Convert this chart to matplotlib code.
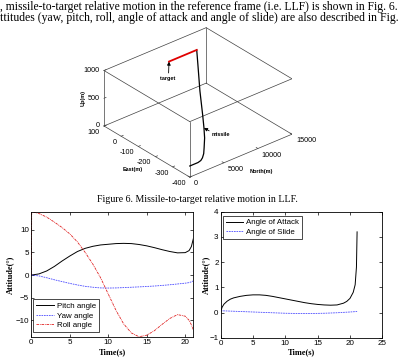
import matplotlib
matplotlib.use('Agg')
import matplotlib.pyplot as plt
import numpy as np
from mpl_toolkits.mplot3d import proj3d

W, H = 404, 361

# ---- Fig. 6 data: missile-to-target relative motion in LLF (m) ----
missile_north = [0, 600, 1215, 1700, 2115, 2600, 3165, 4095, 4905, 5940, 7710, 9825, 10965]
missile_east = [-400, -400, -400, -397, -390, -378, -358, -324, -288, -239, -153, -57, -5]
missile_up = [200, 200, 200, 206, 220, 248, 286, 355, 428, 527, 700, 897, 1000]
target_north = [6900, 10965]
target_east = [-5, -5]
target_up = [1000, 1000]

north_ticks = [0, 5000, 10000, 15000]
east_ticks = [100, 0, -100, -200, -300, -400]
up_ticks = [0, 500, 1000]

# ---- attitude (deg) ----
t_att = [0, 0.05, 1, 2, 3, 4, 5, 6, 7, 8, 9, 10, 11, 12, 13, 14, 15, 16, 17, 18, 19, 20, 20.5, 20.8, 21.05]
pitch = [0, 0, 0.25, 0.9, 1.9, 3.1, 4.2, 5.2, 5.9, 6.35, 6.65, 6.8, 6.95, 7.0, 6.95, 6.75, 6.45, 6.05,
         5.6, 5.2, 4.9, 4.95, 5.4, 6.3, 8.0]
yaw = [0, 0, -0.2, -0.6, -1.05, -1.45, -1.85, -2.2, -2.5, -2.7, -2.85, -2.88, -2.85, -2.78, -2.7, -2.62,
       -2.53, -2.43, -2.3, -2.15, -1.98, -1.8, -1.68, -1.5, -1.3]
roll = [0, 14.0, 13.6, 12.8, 11.7, 10.5, 9.1, 7.3, 5.0, 2.4, -0.6, -4.2, -7.8, -10.8, -12.8, -13.65,
        -13.3, -12.3, -10.9, -9.6, -8.75, -9.1, -10.0, -11.0, -12.1]

t_aoa = [0, 0.2, 0.5, 1, 1.5, 2, 3, 4, 5, 6, 7, 8, 9, 10, 11, 12, 13, 14, 15, 16, 17, 18, 19, 19.5,
         20, 20.5, 20.8, 21.0, 21.1]
aoa = [0.02, 0.2, 0.33, 0.45, 0.53, 0.58, 0.64, 0.68, 0.7, 0.7, 0.68, 0.64, 0.59, 0.54, 0.49, 0.44,
       0.39, 0.35, 0.32, 0.3, 0.29, 0.3, 0.37, 0.44, 0.56, 0.8, 1.1, 1.8, 3.2]
t_slide = [0, 2, 4, 6, 8, 10, 12, 14, 16, 18, 20, 21.1]
slide = [0.07, 0.05, 0.03, 0.01, -0.01, -0.03, -0.04, -0.04, -0.03, -0.01, 0.02, 0.04]

serif = 'Liberation Serif'
sans = 'Liberation Sans'
plt.rcParams['font.family'] = sans


def fpos(x, y):
    # image pixel (y down) -> figure fraction
    return x / W, 1 - y / H


fig = plt.figure(figsize=(W / 100, H / 100), dpi=100)

# page text
body = [", missile-to-target relative motion in the reference frame (i.e. LLF) is shown in Fig. 6.",
        "ttitudes (yaw, pitch, roll, angle of attack and angle of slide) are also described in Fig."]
fig.text(*fpos(0.5, 10), body[0], family=serif, fontsize=8.4, va='baseline')
fig.text(*fpos(0.5, 21), body[1], family=serif, fontsize=8.45, va='baseline')
fig.text(*fpos(197, 201.5), "Figure 6. Missile-to-target relative motion in LLF.", family=serif,
         fontsize=7.1, ha='center', va='baseline')

# ---- 3D plot ----
ax3 = fig.add_axes([0.2, 0.35, 250 / W, 250 / H], projection='3d')
ax3.set_proj_type('ortho')
ax3.view_init(elev=30, azim=-130)
ax3.set_xlim(0, 15000)
ax3.set_ylim(-400, 100)
ax3.set_zlim(0, 1000)
ax3.set_box_aspect((1, 1, 0.48))
ax3.set_axis_off()
ax3.patch.set_alpha(0)
ax3.computed_zorder = False

nl, el, ul = [0, 15000], [-400, 100], [0, 1000]
box = dict(color='#404040', lw=0.5, zorder=1)
for e in el:
    for u in ul:
        ax3.plot(nl, [e, e], [u, u], **box)
for n in nl:
    for u in ul:
        ax3.plot([n, n], el, [u, u], **box)
for n in nl:
    for e in el:
        ax3.plot([n, n], [e, e], ul, **box)

tk = dict(color='#404040', lw=0.5, zorder=1)
for u in up_ticks:
    ax3.plot([0, 300], [100, 100], [u, u], **tk)
for e in east_ticks:
    ax3.plot([0, 300], [e, e], [0, 0], **tk)
for n in north_ticks:
    ax3.plot([n, n], [-400, -390], [0, 0], **tk)

ax3.plot(missile_north, missile_east, missile_up, color='k', lw=0.9, zorder=3)
ax3.plot(target_north, target_east, target_up, color='#e00000', lw=1.3, zorder=4)


def to_px(n, e, u):
    x2, y2, _ = proj3d.proj_transform(np.atleast_1d(n), np.atleast_1d(e), np.atleast_1d(u),
                                      ax3.get_proj())
    return ax3.transData.transform(np.column_stack([x2, y2]))[0]


# place the box so its bottom corners land where they are in the reference
fig.canvas.draw()
pa = to_px(0, 100, 0)
pb = to_px(15000, -400, 0)
ta = np.array([104, H - 126])
tb = np.array([292, H - 133])
s = np.linalg.norm(tb - ta) / np.linalg.norm(pb - pa)
bb = ax3.get_window_extent()
c = np.array([(bb.x0 + bb.x1) / 2, (bb.y0 + bb.y1) / 2])
c_new = ta - s * (pa - c)
w_new, h_new = s * bb.width, s * bb.height
ax3.set_position([(c_new[0] - w_new / 2) / W, (c_new[1] - h_new / 2) / H, w_new / W, h_new / H])
fig.canvas.draw()

fs3 = 5.2
for u in up_ticks:
    p = to_px(0, 100, u)
    fig.text(p[0] - 4, p[1], str(u), transform=None, fontsize=fs3, ha='right', va='center')
for e in east_ticks:
    p = to_px(0, e, 0)
    fig.text(p[0] - 4, p[1] - 6.3, str(e), transform=None, fontsize=fs3, ha='right', va='center')
for n in north_ticks:
    p = to_px(n, -400, 0)
    fig.text(p[0] + 4, p[1] - 6.5, str(n), transform=None, fontsize=fs3, ha='left', va='center')

p = to_px(0, 100, 500)
fig.text(p[0] - 21, p[1], 'Up(m)', transform=None, fontsize=4, fontweight='bold', rotation=90,
         ha='center', va='center')
p = to_px(0, -150, 0)
fig.text(p[0] - 14, p[1] - 18, 'East(m)', transform=None, fontsize=4, fontweight='bold',
         ha='center', va='center')
p = to_px(7500, -400, 0)
fig.text(p[0] + 21, p[1] - 15.5, 'North(m)', transform=None, fontsize=4, fontweight='bold',
         ha='center', va='center')

arrow = dict(arrowstyle='-|>', color='k', lw=0.6, mutation_scale=5, shrinkA=0, shrinkB=0)
p = to_px(target_north[0], target_east[0], target_up[0])
plt.annotate('target', xy=p, xycoords='figure pixels', xytext=(-1.3, -16.7), textcoords='offset pixels',
             fontsize=4, fontweight='bold', ha='center', va='center',
             arrowprops=dict(arrow, relpos=(0.55, 1.0)))
p = to_px(missile_north[8], missile_east[8], missile_up[8])
plt.annotate('missile', xy=p, xycoords='figure pixels', xytext=(8, -4.5), textcoords='offset pixels',
             fontsize=4, fontweight='bold', ha='left', va='top',
             arrowprops=dict(arrow, relpos=(0.0, 1.0)))

# ---- attitude plots ----
lab = dict(family=serif, fontweight='bold', fontsize=6)
leg = dict(fontsize=5.7, fancybox=False, framealpha=1, edgecolor='k', borderpad=0.4,
           labelspacing=0.25, handlelength=2.2, handletextpad=0.35, borderaxespad=0)


def style(ax):
    ax.tick_params(direction='in', length=2.2, width=0.5, top=True, right=True, labelsize=5.8, pad=1.5)
    for sp in ax.spines.values():
        sp.set_linewidth(0.6)


axL = fig.add_axes([31.3 / W, 1 - 337 / H, 162 / W, 125.3 / H])
axL.plot(t_att, pitch, color='k', lw=0.7, label='Pitch angle')
axL.plot(t_att, yaw, color='#4a4aff', lw=0.6, ls=(0, (2, 1)), label='Yaw angle')
axL.plot(t_att, roll, color='#e02020', lw=0.6, ls=(0, (3, 1, 1, 1)), label='Roll angle')
axL.set_xlim(0, 21.05)
axL.set_ylim(-13.7, 14.0)
axL.set_xticks([0, 5, 10, 15, 20])
axL.set_yticks([-10, -5, 0, 5, 10])
axL.set_xlabel('Time(s)', **lab)
axL.set_ylabel('Attitude(°)', **lab)
axL.xaxis.set_label_coords(0.5, (337 - 352.3) / 125.3)
axL.yaxis.set_label_coords((10 - 31.3) / 162, 0.5)
axL.xaxis.label.set_va('center')
axL.yaxis.label.set_va('center')
style(axL)
axL.legend(loc='lower left', bbox_to_anchor=(0.012, 0.037), **leg).get_frame().set_linewidth(0.5)

axR = fig.add_axes([220.7 / W, 1 - 337.7 / H, 161.6 / W, 126 / H])
axR.plot(t_aoa, aoa, color='k', lw=0.7, label='Angle of Attack')
axR.plot(t_slide, slide, color='#4a4aff', lw=0.6, ls=(0, (2, 1)), label='Angle of Slide')
axR.set_xlim(0, 25)
axR.set_ylim(-1, 4)
axR.set_xticks([0, 5, 10, 15, 20, 25])
axR.set_yticks([-1, 0, 1, 2, 3, 4])
axR.set_xlabel('Time(s)', **lab)
axR.set_ylabel('Attitude(°)', **lab)
axR.xaxis.set_label_coords(0.5, (337.7 - 352.3) / 126)
axR.yaxis.set_label_coords((206 - 220.7) / 161.6, 0.5)
axR.xaxis.label.set_va('center')
axR.yaxis.label.set_va('center')
style(axR)
axR.legend(loc='upper left', bbox_to_anchor=(0.0124, 0.968), **leg).get_frame().set_linewidth(0.5)

fig.savefig('out.png', dpi=100)
